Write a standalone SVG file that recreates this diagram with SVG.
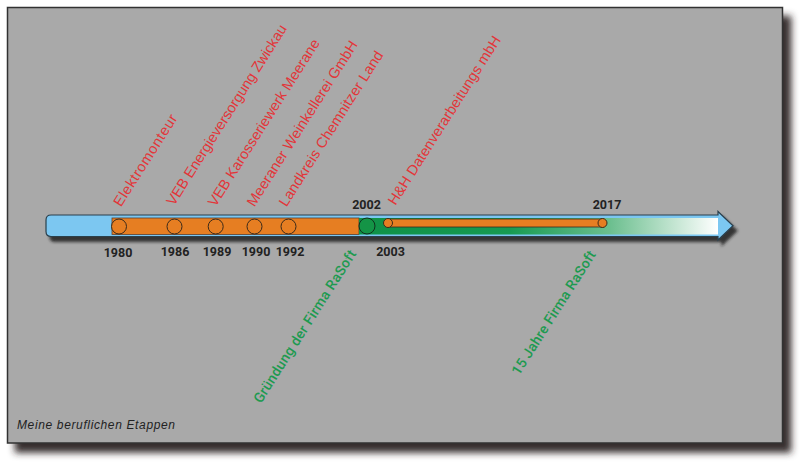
<svg xmlns="http://www.w3.org/2000/svg" width="800" height="465" viewBox="0 0 800 465">
<defs>
  <filter id="panelShadow" x="-5%" y="-5%" width="115%" height="120%">
    <feDropShadow dx="8" dy="9" stdDeviation="3.5" flood-color="#2a2421" flood-opacity="0.95"/>
  </filter>
  <filter id="barShadow" x="-5%" y="-50%" width="110%" height="200%">
    <feDropShadow dx="4" dy="5" stdDeviation="1.8" flood-color="#1e1e1e" flood-opacity="0.85"/>
  </filter>
  <linearGradient id="greenFade" x1="359" y1="0" x2="718" y2="0" gradientUnits="userSpaceOnUse">
    <stop offset="0" stop-color="#0f9147"/>
    <stop offset="0.42" stop-color="#179a52"/>
    <stop offset="0.7" stop-color="#6cbf8f"/>
    <stop offset="1" stop-color="#ffffff"/>
  </linearGradient>
  <style>
    .year { font-family: Roboto, "Liberation Sans", sans-serif; font-weight: bold; font-size: 12.5px; fill: #222; text-anchor: middle; }
    .job { font-family: "Liberation Sans", Arial, sans-serif; font-size: 14.5px; fill: #e2363a; }
    .firm { font-family: Roboto, "Liberation Sans", sans-serif; font-weight: 500; font-size: 14px; fill: #1d9a50; }
    .dot { fill: #e67e22; stroke: #3b2a1a; stroke-width: 1; }
    .gdot { fill: #149446; stroke: #10301e; stroke-width: 1; }
  </style>
</defs>

<g id="panel">
  <rect x="7.5" y="7.5" width="775" height="435.5" fill="#a9a9a9" stroke="#333" stroke-width="1.5" filter="url(#panelShadow)"/>
</g>

<g id="connectors">
  <path d="M51,215 H718 V211.5 L733,225.8 L718,240 V236.5 H51 Q46,236.5 46,231.5 V220 Q46,215 51,215 Z" fill="#7cc7f1" stroke="#2a3f4c" stroke-width="1.2" filter="url(#barShadow)"/>
  <rect x="112" y="218" width="247" height="16.5" fill="#e67e22" stroke="#5a4030" stroke-width="0.8"/>
  <rect x="359" y="218" width="359" height="16.5" fill="url(#greenFade)"/>
  <rect x="388" y="219" width="215" height="8" fill="#e67e22" stroke="#3b2a1a" stroke-width="0.8"/>
</g>

<g id="m1980">
  <circle class="dot" cx="119" cy="226.5" r="7.5"/>
  <text class="year" x="118" y="257">1980</text>
  <text class="job" transform="translate(121,207.5) rotate(-57.5)" textLength="106">Elektromonteur</text>
</g>
<g id="m1986">
  <circle class="dot" cx="174.5" cy="226.5" r="7.5"/>
  <text class="year" x="175" y="256">1986</text>
  <text class="job" transform="translate(174,206.5) rotate(-57.5)" textLength="211">VEB Energieversorgung Zwickau</text>
</g>
<g id="m1989">
  <circle class="dot" cx="215.7" cy="226.5" r="7.5"/>
  <text class="year" x="217" y="256">1989</text>
  <text class="job" transform="translate(215.5,207.5) rotate(-57.5)" textLength="195">VEB Karosseriewerk Meerane</text>
</g>
<g id="m1990">
  <circle class="dot" cx="254.5" cy="226.5" r="7.5"/>
  <text class="year" x="256" y="255.5">1990</text>
  <text class="job" transform="translate(254.5,207.5) rotate(-57.5)" textLength="193">Meeraner Weinkellerei GmbH</text>
</g>
<g id="m1992">
  <circle class="dot" cx="288.5" cy="226.5" r="7.5"/>
  <text class="year" x="290" y="255.5">1992</text>
  <text class="job" transform="translate(286.5,207.5) rotate(-57.5)" textLength="181">Landkreis Chemnitzer Land</text>
</g>
<g id="m2002">
  <circle class="gdot" cx="367" cy="226" r="8"/>
  <text class="year" x="366.5" y="209">2002</text>
  <text class="firm" transform="translate(261,404) rotate(-57.5)" textLength="178">Gründung der Firma RaSoft</text>
</g>
<g id="m2003">
  <circle class="dot" cx="388" cy="223" r="4.5"/>
  <text class="year" x="390.5" y="256">2003</text>
  <text class="job" transform="translate(395.5,206) rotate(-57.5)" textLength="197">H&amp;H Datenverarbeitungs mbH</text>
</g>
<g id="m2017">
  <circle class="dot" cx="602.5" cy="223" r="4.5"/>
  <text class="year" x="607" y="209">2017</text>
  <text class="firm" transform="translate(519,376) rotate(-57.5)" textLength="144">15 Jahre Firma RaSoft</text>
</g>

<g id="caption">
  <text x="17" y="429" font-family="'Liberation Sans', sans-serif" font-style="italic" font-size="12" fill="#222" textLength="158">Meine beruflichen Etappen</text>
</g>
</svg>
